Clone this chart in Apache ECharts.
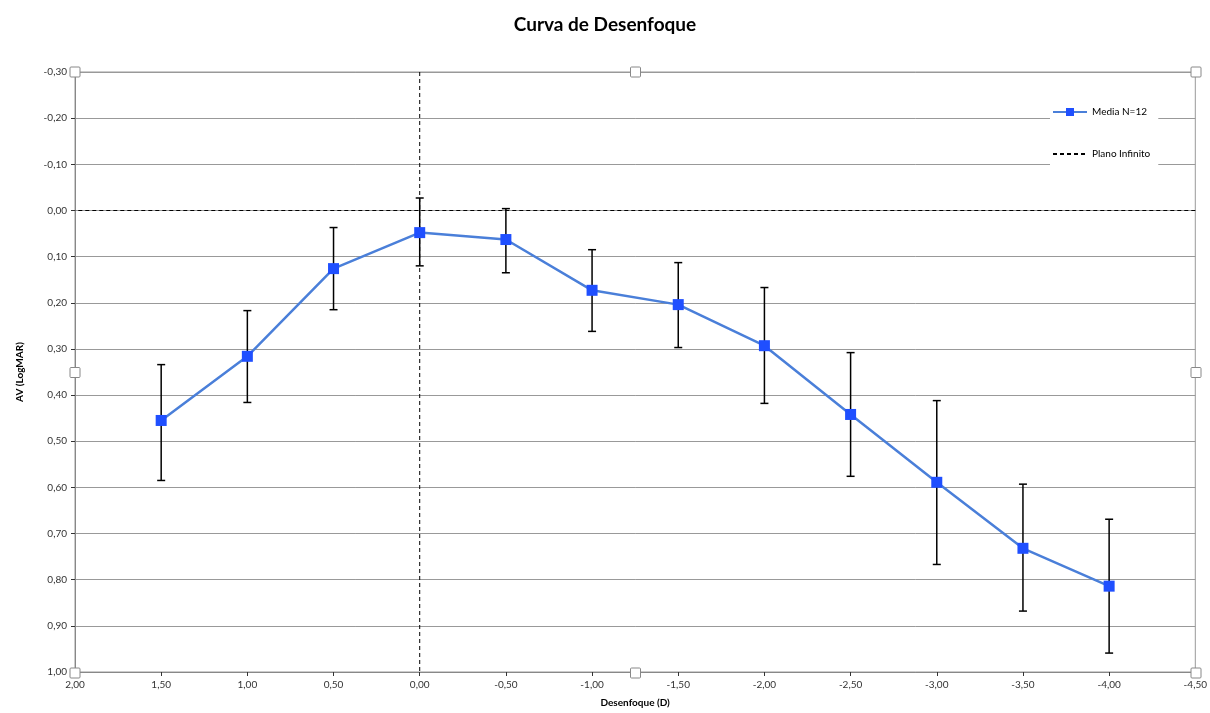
<!DOCTYPE html>
<html><head><meta charset="utf-8">
<script src="https://cdn.jsdelivr.net/npm/echarts@6/dist/echarts.min.js"></script>
<style>html,body{margin:0;padding:0;background:#fff}#c{width:1210px;height:713px}</style>
</head><body><div id="c"></div>
<script>
const desenfoque = [1.5, 1.0, 0.5, 0.0, -0.5, -1.0, -1.5, -2.0, -2.5, -3.0, -3.5, -4.0];
const media      = [0.455, 0.316, 0.126, 0.048, 0.063, 0.173, 0.204, 0.293, 0.442, 0.589, 0.732, 0.814];
const errLow     = [0.334, 0.217, 0.037, -0.027, -0.004, 0.085, 0.113, 0.167, 0.308, 0.412, 0.593, 0.669];
const errHigh    = [0.585, 0.416, 0.215, 0.120, 0.135, 0.262, 0.297, 0.418, 0.576, 0.767, 0.868, 0.959];
const planoX = [0, 0];
const planoY = [-0.3, 1.0];

const fmt = v => { const r = Math.round(v*100)/100; return (Math.abs(r) < 1e-9 ? 0 : r).toFixed(2).replace('.', ','); };
const font = 'Lato, "Open Sans", sans-serif';

const chart = echarts.init(document.getElementById('c'));
const G = {left: 75, right: 14, top: 72, bottom: 40};
chart.setOption({
  animation: false,
  title: {text: 'Curva de Desenfoque', left: 'center', top: 10,
    textStyle: {fontFamily: font, fontSize: 19, fontWeight: 'bold', color: '#000'}},
  legend: {
    orient: 'vertical', left: 1050, top: 101, itemGap: 32, itemWidth: 34, itemHeight: 10,
    backgroundColor: '#fff', padding: [6, 8, 14, 2],
    textStyle: {fontFamily: font, fontSize: 10, color: '#000'},
    data: ['Media N=12', {name: 'Plano Infinito', itemStyle: {opacity: 0}}]
  },
  grid: {left: G.left, right: G.right, top: G.top, bottom: G.bottom, show: true, borderColor: '#999', borderWidth: 1},
  xAxis: {
    type: 'value', inverse: true, min: -4.5, max: 2, interval: 0.5,
    name: 'Desenfoque (D)', nameLocation: 'middle', nameGap: 26,
    nameTextStyle: {fontFamily: font, fontSize: 10, fontWeight: 'bold', color: '#000'},
    axisLine: {show: true, onZero: false, lineStyle: {color: '#888'}},
    axisTick: {show: true, length: 4, lineStyle: {color: '#333'}},
    axisLabel: {formatter: fmt, fontFamily: font, fontSize: 10, color: '#333', margin: 8},
    splitLine: {show: false}
  },
  yAxis: {
    type: 'value', inverse: true, min: -0.3, max: 1.0, interval: 0.1,
    name: 'AV (LogMAR)', nameLocation: 'middle', nameGap: 50, nameRotate: 90,
    nameTextStyle: {fontFamily: font, fontSize: 10, fontWeight: 'bold', color: '#000'},
    axisLine: {show: true, onZero: false, lineStyle: {color: '#888'}},
    axisTick: {show: true, length: 4, lineStyle: {color: '#333'}},
    axisLabel: {formatter: fmt, fontFamily: font, fontSize: 10, color: '#333', margin: 8},
    splitLine: {show: true, lineStyle: {color: '#999', width: 1}}
  },
  series: [
    {
      name: 'Plano Infinito', type: 'line', symbol: 'none', silent: true,
      data: planoX.map((x, i) => [x, planoY[i]]),
      lineStyle: {color: '#000', width: 1, type: [4, 3]},
      itemStyle: {color: '#000'},
      markLine: {symbol: 'none', silent: true, label: {show: false},
        lineStyle: {color: '#000', width: 1, type: [4, 3]},
        data: [{yAxis: 0}]}
    },
    {
      name: 'errores', type: 'custom', silent: true, z: 3,
      data: desenfoque.map((x, i) => [x, errLow[i], errHigh[i]]),
      renderItem: (params, api) => {
        const lo = api.coord([api.value(0), api.value(1)]);
        const hi = api.coord([api.value(0), api.value(2)]);
        const w = 4;
        const st = {stroke: '#000', lineWidth: 1.5};
        return {type: 'group', children: [
          {type: 'line', shape: {x1: lo[0], y1: lo[1], x2: hi[0], y2: hi[1]}, style: st},
          {type: 'line', shape: {x1: lo[0]-w, y1: lo[1], x2: lo[0]+w, y2: lo[1]}, style: st},
          {type: 'line', shape: {x1: hi[0]-w, y1: hi[1], x2: hi[0]+w, y2: hi[1]}, style: st}
        ]};
      }
    },
    {
      name: 'Media N=12', type: 'line', z: 4,
      data: desenfoque.map((x, i) => [x, media[i]]),
      symbol: 'rect', symbolSize: 11,
      lineStyle: {color: '#4a7fd9', width: 2.5},
      itemStyle: {color: '#1f4fff'}
    }
  ]
});

// selection handles around the plot area (decoration)
const W = 1210, H = 713;
const x0 = G.left, x1 = W - G.right, y0 = G.top, y1 = H - G.bottom;
const xm = (x0 + x1) / 2, ym = (y0 + y1) / 2;
const pts = [[x0,y0],[xm,y0],[x1,y0],[x0,ym],[x1,ym],[x0,y1],[xm,y1],[x1,y1]];
chart.setOption({graphic: pts.map(p => ({
  type: 'rect', shape: {x: p[0]-5, y: p[1]-5, width: 10, height: 10, r: 1},
  style: {fill: '#fff', stroke: '#888', lineWidth: 1}, z: 100
}))});
</script>
</body></html>
